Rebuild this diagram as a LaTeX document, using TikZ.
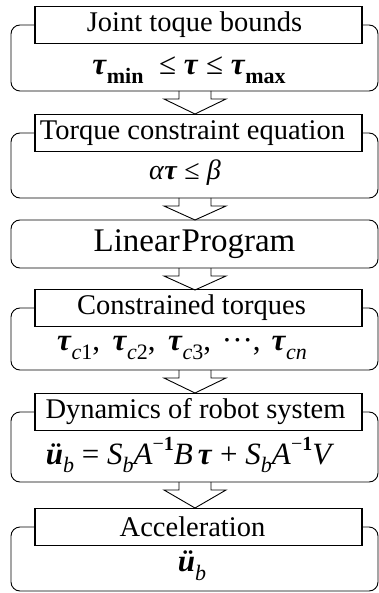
\documentclass[tikz,border=0pt]{standalone}
\usepackage{fontspec}
\setmainfont{Liberation Serif}
\usetikzlibrary{calc}
\newcommand{\btau}{\textbf{\textit{τ}}}
\newcommand{\bsub}[1]{\raisebox{-0.28em}{\fontsize{22}{22}\selectfont #1}}
\newcommand{\bsup}[1]{\raisebox{0.45em}{\fontsize{20}{20}\selectfont #1}}
\newcommand{\blockarrow}[2]{%
  \draw[barrow] ($(#1)+(-16,0)$) -- ($(#1)+(-16,8)$) -- ($(#1)+(-31,8)$) -- (#2)
    -- ($(#1)+(31,8)$) -- ($(#1)+(16,8)$) -- ($(#1)+(16,0)$);}
\begin{document}
\begin{tikzpicture}[x=1pt,y=-1pt,
  titlebox/.style={draw, line width=1.1pt, minimum width=327pt, minimum height=37pt,
    inner sep=0pt, font=\fontsize{28.5}{30}\selectfont},
  frame/.style={draw, line width=0.9pt, rounded corners=9pt},
  formula/.style={inner sep=0pt, font=\fontsize{31}{33}\selectfont},
  barrow/.style={draw, line width=0.9pt},
]
\useasboundingbox (0,0) rectangle (379,593);
% Block 1
\node[titlebox] (t1) at (198.5,25) {Joint toque bounds\kern8pt};
\node[formula] (f1) at (189,70) {\btau\bsub{\textbf{min}} \ ≤ \btau{} ≤ \btau\bsub{\textbf{max}}};
\coordinate (b1) at (195,91);
\draw[frame] (t1.west) -| (11,91) -| (378,25) -- (t1.east);
% Block 2
\node[titlebox] (t2) at (198.5,133) {Torque constraint equation\kern12pt};
\node[formula, font=\fontsize{28}{30}\selectfont] (f2) at (185,173) {\textit{α}\btau{} ≤ \textit{β}};
\coordinate (b2) at (195,198);
\draw[frame] (t2.west) -| (11,198) -| (378,133) -- (t2.east);
% Block 3
\node[draw, line width=0.9pt, rounded corners=9pt, minimum width=367pt, minimum height=48pt,
  inner sep=0pt, font=\fontsize{33}{35}\selectfont] (lp) at (194.5,244) {Linear\hspace{0.06em}Program};
\coordinate (b3) at (195,268);
% Block 4
\node[titlebox] (t4) at (198.5,308) {Constrained torques\kern14pt};
\node[formula] (f4) at (182,348) {\btau\bsub{\textit{c}1},\hspace{0.4em}\btau\bsub{\textit{c}2},\hspace{0.4em}\btau\bsub{\textit{c}3},\hspace{0.35em}···,\hspace{0.35em}\btau\bsub{\textit{cn}}};
\coordinate (b4) at (195,370);
\draw[frame] (t4.west) -| (11,370) -| (378,308) -- (t4.east);
% Block 5
\node[titlebox] (t5) at (198.5,412) {Dynamics of robot system\kern6pt};
\node[formula] (f5) at (190,455) {\textbf{\textit{ü}}\bsub{\textit{b}} = \textit{S}\bsub{\textit{b}}\textit{A}\bsup{−\textbf{1}}\textit{B}\,\btau{} + \textit{S}\bsub{\textit{b}}\textit{A}\bsup{−\textbf{1}}\textit{V}};
\coordinate (b5) at (195,482);
\draw[frame] (t5.west) -| (11,482) -| (378,412) -- (t5.east);
% Block 6
\node[titlebox] (t6) at (198.5,527) {Acceleration\kern12pt};
\node[formula] (f6) at (192,566) {\textbf{\textit{ü}}\bsub{\textit{b}}};
\draw[frame] (t6.west) -| (11,591) -| (378,527) -- (t6.east);
% Arrows
\coordinate (p2) at (195,114);
\coordinate (p3) at (195,220);
\coordinate (p4) at (195,290);
\coordinate (p5) at (195,393);
\coordinate (p6) at (195,508);
\blockarrow{b1}{p2}
\blockarrow{b2}{p3}
\blockarrow{b3}{p4}
\blockarrow{b4}{p5}
\blockarrow{b5}{p6}
\end{tikzpicture}
\end{document}
